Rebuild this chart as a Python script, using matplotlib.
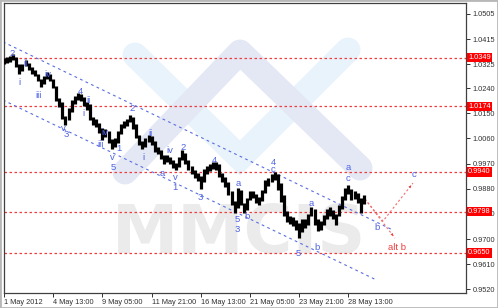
import numpy as np
import matplotlib.pyplot as plt

# H4 bars, x axis counted in hours (H1 bars) from 1 May 2012
highs = [1.0347, 1.0351, 1.0355, 1.0362, 1.0351, 1.0326, 1.0326, 1.0340, 1.0329, 1.0315,
         1.0304, 1.0290, 1.0272, 1.0283, 1.0297, 1.0290, 1.0272, 1.0247, 1.0204, 1.0190,
         1.0140, 1.0168, 1.0197, 1.0211, 1.0222, 1.0218, 1.0208, 1.0190, 1.0183, 1.0136,
         1.0129, 1.0115, 1.0097, 1.0093, 1.0086, 1.0057, 1.0061, 1.0086, 1.0111, 1.0122,
         1.0129, 1.0143, 1.0136, 1.0111, 1.0072, 1.0050, 1.0061, 1.0072, 1.0068, 1.0050,
         1.0029, 1.0018, 1.0000, 1.0000, 0.9993, 0.9982, 0.9971, 0.9993, 1.0018, 1.0007,
         0.9982, 0.9961, 0.9946, 0.9936, 0.9925, 0.9950, 0.9961, 0.9968, 0.9975, 0.9975,
         0.9968, 0.9936, 0.9921, 0.9903, 0.9871, 0.9835, 0.9882, 0.9875, 0.9828, 0.9846,
         0.9871, 0.9871, 0.9860, 0.9850, 0.9875, 0.9911, 0.9918, 0.9932, 0.9939, 0.9932,
         0.9900, 0.9857, 0.9800, 0.9782, 0.9778, 0.9767, 0.9757, 0.9771, 0.9771, 0.9789,
         0.9814, 0.9807, 0.9771, 0.9764, 0.9785, 0.9807, 0.9814, 0.9803, 0.9789, 0.9821,
         0.9853, 0.9882, 0.9893, 0.9878, 0.9871, 0.9864, 0.9846, 0.9857]
lows = [1.0326, 1.0329, 1.0333, 1.0340, 1.0315, 1.0290, 1.0301, 1.0319, 1.0304, 1.0290,
        1.0283, 1.0265, 1.0244, 1.0254, 1.0272, 1.0265, 1.0240, 1.0193, 1.0172, 1.0129,
        1.0108, 1.0125, 1.0154, 1.0183, 1.0197, 1.0193, 1.0176, 1.0161, 1.0125, 1.0108,
        1.0100, 1.0079, 1.0054, 1.0065, 1.0043, 1.0022, 1.0029, 1.0043, 1.0075, 1.0097,
        1.0104, 1.0118, 1.0093, 1.0061, 1.0036, 1.0022, 1.0029, 1.0047, 1.0036, 1.0011,
        1.0004, 0.9986, 0.9968, 0.9975, 0.9968, 0.9954, 0.9946, 0.9957, 0.9982, 0.9968,
        0.9946, 0.9932, 0.9918, 0.9907, 0.9878, 0.9903, 0.9932, 0.9943, 0.9950, 0.9946,
        0.9921, 0.9903, 0.9886, 0.9857, 0.9821, 0.9792, 0.9810, 0.9821, 0.9792, 0.9803,
        0.9839, 0.9846, 0.9828, 0.9821, 0.9835, 0.9864, 0.9889, 0.9903, 0.9911, 0.9875,
        0.9832, 0.9782, 0.9760, 0.9753, 0.9746, 0.9732, 0.9703, 0.9724, 0.9739, 0.9750,
        0.9782, 0.9750, 0.9728, 0.9732, 0.9750, 0.9771, 0.9782, 0.9771, 0.9750, 0.9782,
        0.9807, 0.9839, 0.9860, 0.9839, 0.9843, 0.9828, 0.9792, 0.9825]

time_ticks = [0, 64, 128, 192, 256, 320, 384, 448]
time_labels = ["1 May 2012", "4 May 13:00", "9 May 05:00", "11 May 21:00",
               "16 May 13:00", "21 May 05:00", "23 May 21:00", "28 May 13:00"]
price_ticks = [1.0505, 1.0415, 1.0325, 1.0240, 1.0150, 1.0060,
               0.9970, 0.9880, 0.9790, 0.9700, 0.9610, 0.9520]
levels = [1.0349, 1.0174, 0.9940, 0.9798, 0.9650]

chan_top_x = [-1.3, 506]
chan_top_y = [1.0405, 0.9732]
chan_bot_x = [-1.3, 482.6]
chan_bot_y = [1.0197, 0.9556]

wave_text = ["2", "i", "ii", "iii", "iv", "v", "3", "4", "ii", "i",
             "iv", "iii", "v", "5", "1", "2", "i", "ii", "iv", "2",
             "a", "v", "1", "3", "4", "a", "5", "3", "b", "4",
             "c", "a", "5", "b", "a", "c", "b", "c"]
wave_x = [10.4, 19.5, 28.6, 45.5, 57.2, 76.7, 80.6, 98.9, 109.3, 102.8,
          131.4, 126.2, 140.5, 141.8, 149.6, 166.5, 180.8, 191.2, 215.9, 232.8,
          205.5, 222.4, 222.4, 254.9, 274.4, 304.4, 303.1, 303.1, 316.1, 349.9,
          349.9, 399.3, 382.4, 407.1, 447.4, 447.4, 485.2, 533.3]
wave_y = [1.0362, 1.0258, 1.0329, 1.0215, 1.0287, 1.0097, 1.0072, 1.0229, 1.0197, 1.0150,
          1.0082, 1.0039, 0.9993, 0.9957, 1.0022, 1.0165, 0.9993, 1.0079, 1.0018, 1.0029,
          0.9936, 0.9921, 0.9886, 0.9850, 0.9982, 0.9900, 0.9770, 0.9734, 0.9782, 0.9975,
          0.9950, 0.9828, 0.9649, 0.9671, 0.9954, 0.9918, 0.9742, 0.9932]

# forecast paths
proj_x = [469.5, 493, 532]
proj_y = [0.9843, 0.9764, 0.9900]
alt_x = [469.5, 508.6]
alt_y = [0.9843, 0.9703]

fig = plt.figure(figsize=(4.98, 3.08), dpi=100)
ax = fig.add_axes([4 / 498, 15.3 / 308, 462 / 498, 289.4 / 308])
ax.set_xlim(0, 601)
ax.set_ylim(0.9508, 1.0543)


def px(x, y):
    return x / 498, 1 - y / 308


# watermark logo
vx, vy = zip(*[px(135, 55), px(240, 158), px(348, 50)])
ax.plot(vx, vy, color='#e9f3fc', lw=18, solid_capstyle='round', solid_joinstyle='miter',
        transform=fig.transFigure, zorder=0.5)
cx, cy = zip(*[px(125, 172), px(240, 52), px(360, 168)])
ax.plot(cx, cy, color='#e4e8f5', lw=18, solid_capstyle='round', solid_joinstyle='round',
        transform=fig.transFigure, zorder=0.6)
ax.text(239 / 498, 1 - 234 / 308, "MMCIS", transform=fig.transFigure, fontsize=48,
        fontweight='bold', color='#ebebeb', ha='center', va='center', zorder=0.7)

for lvl in levels:
    ax.axhline(lvl, color='#f03c3c', lw=0.9, ls=(0, (2, 2)), zorder=1)
    ax.text(1 + 2 / 462, lvl, f"{lvl:.4f}", transform=ax.get_yaxis_transform(),
            color='white', fontsize=5.3, family='Liberation Sans', ha='left', va='center',
            bbox=dict(fc='#ff0000', ec='none', pad=0.9), clip_on=False, zorder=5)

ax.plot(chan_top_x, chan_top_y, color='#5a6ee0', lw=0.8, ls=(0, (2.5, 3)), zorder=2)
ax.plot(chan_bot_x, chan_bot_y, color='#5a6ee0', lw=0.8, ls=(0, (2.5, 3)), zorder=2)

bar_x = np.arange(len(highs)) * 4
ax.vlines(bar_x, lows, highs, color='black', lw=2.3, zorder=3)

ax.plot(proj_x, proj_y, color='#f07070', lw=0.8, ls=(0, (2, 2)), zorder=2)
ax.plot(alt_x, alt_y, color='#f07070', lw=0.8, ls=(0, (2, 2)), zorder=2)
ax.annotate("", xy=(proj_x[-1], proj_y[-1]), xytext=(proj_x[-2], proj_y[-2]),
            arrowprops=dict(arrowstyle='-|>', color='#f03c3c', lw=0, mutation_scale=5))
ax.annotate("", xy=(alt_x[-1], alt_y[-1]), xytext=(alt_x[-2], alt_y[-2]),
            arrowprops=dict(arrowstyle='-|>', color='#f03c3c', lw=0, mutation_scale=5))

for t, x, y in zip(wave_text, wave_x, wave_y):
    ax.text(x, y, t, color='#4f63e6', fontsize=6.8, family='Liberation Sans',
            ha='center', va='center', zorder=4)
ax.text(511.2, 0.9671, "alt b", color='#f03c3c', fontsize=6.8, family='Liberation Sans',
        ha='center', va='center', zorder=4)

ax.set_xticks(time_ticks)
ax.set_xticklabels(time_labels)
for lab in ax.get_xticklabels():
    lab.set_ha('left')
ax.set_yticks(price_ticks)
ax.set_yticklabels([f"{p:.4f}" for p in price_ticks])
ax.yaxis.tick_right()
ax.tick_params(axis='both', length=3, width=0.7, labelsize=5.3, pad=1.5, colors='#303030')
for lab in ax.get_xticklabels() + ax.get_yticklabels():
    lab.set_family('Liberation Sans')
for s in ax.spines.values():
    s.set_color('#404040')
    s.set_linewidth(0.9)

fig.patches.append(plt.Rectangle((0, 0), 1, 1, transform=fig.transFigure, fill=False,
                                 ec='#b8b8b8', lw=2))
fig.savefig('out.png', dpi=100)
